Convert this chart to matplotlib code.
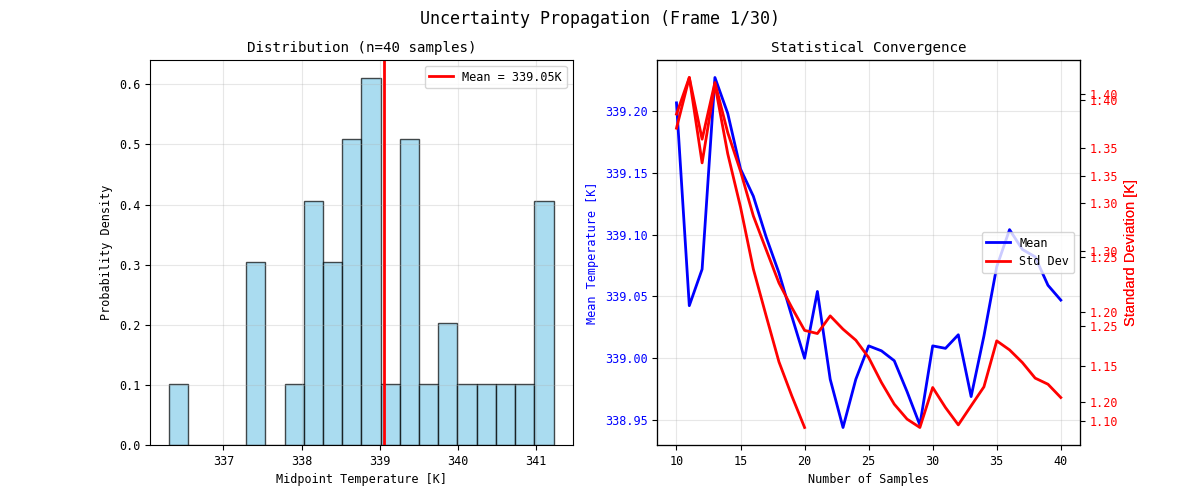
import numpy as np
import matplotlib
matplotlib.use('Agg')
import matplotlib.pyplot as plt

#--------------------------------------------------------------------------
# Dados
#--------------------------------------------------------------------------
# histograma (20 classes entre t_min e t_max)
t_min = 336.307
t_max = 341.225
counts = [1, 0, 0, 0, 3, 0, 1, 4, 3, 5, 6, 1, 5, 1, 2, 1, 1, 1, 1, 4]
mean_final = 339.05

# convergência
n_samples = list(range(10, 41))
mean_temp = [339.2065, 339.0425, 339.072, 339.227, 339.198, 339.153, 339.131,
             339.098, 339.069, 339.034, 339.000, 339.054, 338.983, 338.944,
             338.983, 339.010, 339.006, 338.998, 338.973, 338.946, 339.010,
             339.008, 339.019, 338.969, 339.018, 339.074, 339.104, 339.088,
             339.082, 339.059, 339.047]
std_temp = [1.3814, 1.4150, 1.3584, 1.4104, 1.3645, 1.3290, 1.2880, 1.2570,
            1.2265, 1.2040, 1.1830, 1.1801, 1.1963, 1.1841, 1.1740, 1.1581,
            1.1352, 1.1153, 1.1016, 1.0939, 1.1306, 1.1122, 1.0963, 1.1138,
            1.1312, 1.1734, 1.1651, 1.1535, 1.1392, 1.1336, 1.1214]
n_old = 11   # pontos do quadro anterior (eixo gêmeo que ficou para trás)

plt.rcParams['font.family'] = ['DejaVu Sans Mono']
plt.rcParams['font.size'] = 8.5

#--------------------------------------------------------------------------
# Figura
#--------------------------------------------------------------------------
fig, (ax0, ax1) = plt.subplots(1, 2, figsize=(12, 5), dpi=100)
fig.suptitle('Uncertainty Propagation (Frame 1/30)', fontsize=12)

# Histograma
edges = np.linspace(t_min, t_max, len(counts) + 1)
centers = 0.5 * (edges[:-1] + edges[1:])
ax0.hist(centers, bins=edges, weights=counts, density=True,
         color='skyblue', alpha=0.7, edgecolor='black')
ax0.axvline(mean_final, color='red', linewidth=2,
            label='Mean = %.2fK' % mean_final)
ax0.set_xlabel('Midpoint Temperature [K]')
ax0.set_ylabel('Probability Density')
ax0.set_title('Distribution (n=40 samples)', fontsize=10.2)
ax0.legend(loc='upper right')
ax0.grid(True, alpha=0.3)

# Convergência
l1, = ax1.plot(n_samples, mean_temp, 'b-', linewidth=2, label='Mean')
ax1.set_xlabel('Number of Samples')
ax1.set_ylabel('Mean Temperature [K]', color='blue')
ax1.tick_params(axis='y', labelcolor='blue')
ax1.set_title('Statistical Convergence', fontsize=10.2)
ax1.grid(True, alpha=0.3)

ax_old = ax1.twinx()
ax_old.plot(n_samples[:n_old], std_temp[:n_old], 'r-', linewidth=2)
ax2 = ax1.twinx()
l2, = ax2.plot(n_samples, std_temp, 'r-', linewidth=2, label='Std Dev')
for ax in (ax_old, ax2):
    ax.set_ylabel('Standard Deviation [K]', color='red',
                  family='Liberation Sans', fontsize=10.5)
    ax.tick_params(axis='y', labelcolor='red')

ax1.legend([l1, l2], ['Mean', 'Std Dev'], loc='center right')

fig.savefig('out.png', dpi=100)
